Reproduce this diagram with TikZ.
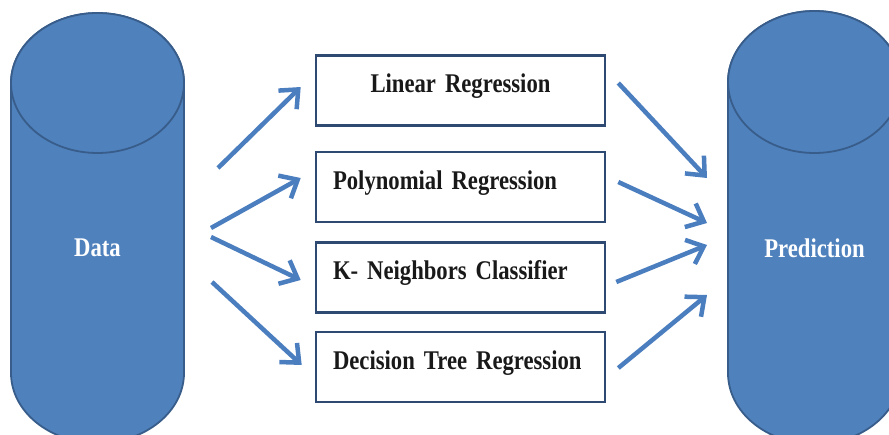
\documentclass[tikz,border=0pt]{standalone}
\usepackage{fontspec}
\setmainfont{Liberation Serif}[FakeStretch=0.84, WordSpace=0.7]
\usetikzlibrary{arrows.meta}
\definecolor{cylblue}{HTML}{4F81BD}
\definecolor{cyledge}{HTML}{385D8A}
\definecolor{boxedge}{HTML}{2E4A72}
\definecolor{arrblue}{HTML}{4A7EBF}
\newcommand{\lblsize}{\fontsize{27pt}{30pt}\selectfont\bfseries}

\begin{document}
\begin{tikzpicture}[x=1pt,y=-1pt,
                cyl/.style = {fill=cylblue, draw=cyledge, line width=1.8pt},
                cyltext/.style = {text=white, font=\lblsize, inner sep=0pt},
                box/.style = {draw=boxedge, fill=white, line width=2.6pt, minimum width=289pt,
                              text width=255pt, inner xsep=17pt, inner ysep=0pt,
                              text height=37pt, text depth=33pt, align=left,
                              font=\lblsize, text=black!90},
                arr/.style = {draw=arrblue, line width=4.5pt,
                              -{Straight Barb[length=15pt,width=26pt,line width=4.5pt]}}]
                \useasboundingbox (0,0) rectangle (889,434);
                \clip (0,0) rectangle (889,434);
                % cylinders
                \path[cyl] (11,83) -- (11,373) arc[start angle=180,end angle=0,x radius=86.5,y radius=70]
                    -- (184,83) arc[start angle=0,end angle=-180,x radius=86.5,y radius=70] -- cycle;
                \path[cyl] (97.5,83) ellipse [x radius=86.5, y radius=70];
                \path[cyl] (728,82) -- (728,373) arc[start angle=180,end angle=0,x radius=86.5,y radius=71]
                    -- (901,82) arc[start angle=0,end angle=-180,x radius=86.5,y radius=71] -- cycle;
                \path[cyl] (814.5,82) ellipse [x radius=86.5, y radius=71];
                \node[cyltext] (data) at (97.5,248) {Data};
                \node[cyltext] (pred) at (814.5,248) {Prediction};
                % models
                \node[box, align=center] (lin) at (460.5,90.5) {Linear Regression};
                \node[box] (poly) at (460.5,187) {Polynomial Regression};
                \node[box] (knn) at (460.5,277.5) {K- Neighbors Classifier};
                \node[box] (tree) at (460.5,367) {Decision Tree Regression};
                % arrow ends
                \coordinate (d1) at (218,168);
                \coordinate (d2) at (211,228);
                \coordinate (d3) at (211,237);
                \coordinate (d4) at (212,282);
                \coordinate (p1) at (707,178);
                \coordinate (p2) at (707,223);
                \coordinate (p3) at (707,245);
                \coordinate (p4) at (707,295);
                \draw[arr] (d1) -- ([shift={(-14,-3.5)}]lin.west);
                \draw[arr] (d2) -- ([shift={(-14,-9)}]poly.west);
                \draw[arr] (d3) -- ([shift={(-14,2.5)}]knn.west);
                \draw[arr] (d4) -- ([shift={(-13,-2)}]tree.west);
                \draw[arr] ([shift={(12,-7.5)}]lin.east) -- (p1);
                \draw[arr] ([shift={(12,-5)}]poly.east) -- (p2);
                \draw[arr] ([shift={(10,4.5)}]knn.east) -- (p3);
                \draw[arr] ([shift={(12,1)}]tree.east) -- (p4);
\end{tikzpicture}
\end{document}
